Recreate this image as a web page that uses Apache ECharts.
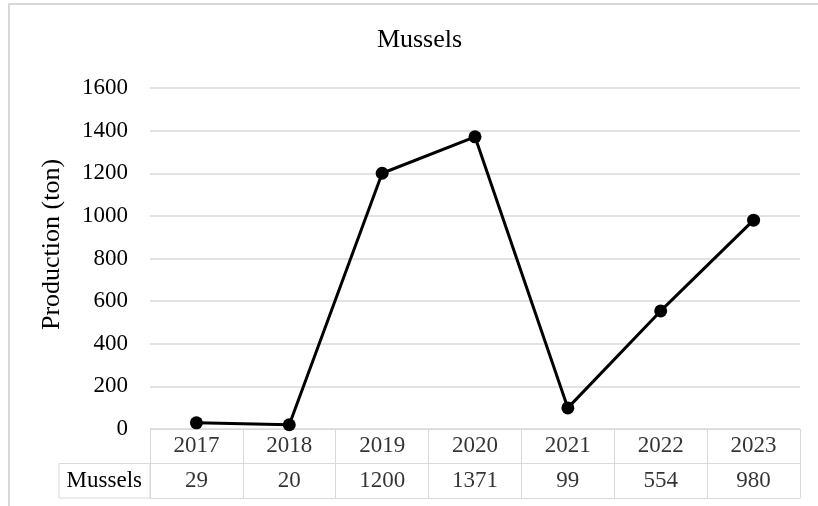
<!DOCTYPE html>
<html>
<head>
<meta charset="utf-8">
<script src="https://cdn.jsdelivr.net/npm/echarts@6/dist/echarts.min.js"></script>
<style>
html,body{margin:0;padding:0;background:#fff;}
#chart{width:818px;height:506px;}
</style>
</head>
<body>
<div id="chart"></div>
<script>
var titleText = 'Mussels';
var yAxisTitle = 'Production (ton)';
var seriesName = 'Mussels';
var years = ['2017', '2018', '2019', '2020', '2021', '2022', '2023'];
var production = [29, 20, 1200, 1371, 99, 554, 980];
var yTicks = { min: 0, max: 1600, interval: 200 };

var FONT = "'Liberation Serif', 'Times New Roman', serif";
var GRID_COLOR = '#d9d9d9';

var tableRows = [seriesName, 'header'];
var tableData = [];
years.forEach(function (y, i) {
  tableData.push({ value: [y, 'header'], label: { formatter: y } });
  tableData.push({ value: [y, seriesName], label: { formatter: String(production[i]) } });
});

var chart = echarts.init(document.getElementById('chart'), null, { renderer: 'canvas' });
chart.setOption({
  animation: false,
  backgroundColor: '#fff',
  textStyle: { fontFamily: FONT, color: '#000' },
  title: {
    text: titleText,
    left: 414.5,
    top: 22,
    textAlign: 'center',
    textStyle: { fontFamily: FONT, fontSize: 26, fontWeight: 'normal', color: '#000' }
  },
  graphic: [
    {
      type: 'rect', silent: true, z: -1,
      shape: { x: 9, y: 4, width: 900, height: 600 },
      style: { fill: 'none', stroke: GRID_COLOR, lineWidth: 2 }
    },
    {
      type: 'text', silent: true,
      x: 52, y: 244.5, rotation: Math.PI / 2,
      style: {
        text: yAxisTitle, fontFamily: FONT, fontSize: 26, fill: '#000',
        textAlign: 'center', textVerticalAlign: 'middle'
      }
    }
  ],
  grid: [
    { left: 150, right: 18, top: 88, height: 341 },
    { left: 150, right: 18, top: 429, height: 69 },
    { left: 59, top: 463.5, width: 91, height: 34.5, show: true, borderColor: GRID_COLOR, borderWidth: 1, backgroundColor: 'transparent' }
  ],
  xAxis: [
    {
      gridIndex: 0, type: 'category', data: years, boundaryGap: true,
      axisLine: { show: false }, axisTick: { show: false }, axisLabel: { show: false }, splitLine: { show: false }
    },
    {
      gridIndex: 1, type: 'category', data: years, boundaryGap: true,
      axisLine: { show: true, lineStyle: { color: GRID_COLOR, width: 1 } },
      axisTick: { show: false }, axisLabel: { show: false },
      splitLine: { show: true, lineStyle: { color: GRID_COLOR, width: 1 } }
    },
    { gridIndex: 2, type: 'value', show: false }
  ],
  yAxis: [
    {
      gridIndex: 0, type: 'value', min: yTicks.min, max: yTicks.max, interval: yTicks.interval,
      axisLine: { show: false }, axisTick: { show: false },
      axisLabel: {
        margin: 22, fontSize: 23, fontFamily: FONT, color: '#000',
        formatter: function (v) { return String(v); }
      },
      splitLine: { show: true, lineStyle: { color: GRID_COLOR, width: 1.5 } }
    },
    {
      gridIndex: 1, type: 'category', data: tableRows, boundaryGap: true,
      axisLine: { show: true, lineStyle: { color: GRID_COLOR, width: 1 } },
      axisTick: { show: false },
      axisLabel: {
        margin: 8, fontSize: 23, fontFamily: FONT, color: '#000',
        formatter: function (v) { return v === 'header' ? '' : v; }
      },
      splitLine: { show: true, lineStyle: { color: GRID_COLOR, width: 1 } }
    },
    { gridIndex: 2, type: 'value', show: false }
  ],
  series: [
    {
      name: seriesName,
      type: 'line',
      xAxisIndex: 0, yAxisIndex: 0,
      data: production,
      symbol: 'circle',
      symbolSize: 13,
      lineStyle: { color: '#000', width: 3 },
      itemStyle: { color: '#000' },
      z: 3
    },
    {
      type: 'scatter',
      xAxisIndex: 1, yAxisIndex: 1,
      data: tableData,
      symbolSize: 0,
      silent: true,
      label: { show: true, position: 'inside', fontSize: 23, fontFamily: FONT, color: '#000' }
    }
  ]
});
</script>
</body>
</html>
